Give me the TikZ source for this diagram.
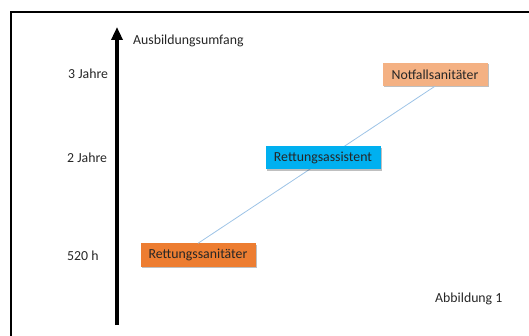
\documentclass[tikz,border=0pt]{standalone}
\usepackage{fontspec}
\setmainfont{Carlito}
\usetikzlibrary{arrows.meta,shadows}
\definecolor{ink}{HTML}{262626}
\definecolor{rsorange}{HTML}{ED7D31}
\definecolor{nsorange}{HTML}{F4B183}
\definecolor{rablue}{HTML}{00B0F0}
\definecolor{linkblue}{HTML}{9DC3E6}
\tikzset{
  every node/.style={font=\fontsize{13.8}{16}\selectfont,text=ink},
  level/.style={anchor=west,inner sep=0pt},
  job/.style={rectangle,minimum height=23pt,inner sep=2pt,align=center,
    drop shadow={shadow xshift=1.2pt,shadow yshift=-1.2pt,opacity=0.25,fill=black}},
  axis/.style={line width=3.5pt,-{Triangle[width=11pt,length=13pt]}},
  link/.style={draw=linkblue,line width=0.8pt},
  frame/.style={line width=2pt,draw=black},
}
\begin{document}
\begin{tikzpicture}[x=1pt,y=-1pt]
  \useasboundingbox (0,0) rectangle (529,336);
  \draw[frame] (11,340) -- (11,12) -- (535,12);

  % axis
  \coordinate (ybot) at (117,325);
  \coordinate (ytop) at (117,27);
  \draw[axis] (ybot) -- (ytop);
  \node[level] (ylabel) at (133,41) {Ausbildungsumfang};
  \node[level] (l3) at (68,74) {3 Jahre};
  \node[level] (l2) at (67,158) {2 Jahre};
  \node[level] (l1) at (67,256) {520 h};

  % Ausbildungsstufen
  \node[job,fill=rsorange,minimum width=115pt] (rs) at (198,255) {Rettungssanit\"ater};
  \node[job,fill=nsorange,minimum width=105pt] (ns) at (435,74.5) {Notfallsanit\"ater};
  \draw[link] (rs.north) -- (ns.south);
  \node[job,fill=rablue,minimum width=115pt] (ra) at (323,158) {Rettungsassistent};

  \node[level] (fig) at (435,299) {Abbildung 1};
\end{tikzpicture}
\end{document}
